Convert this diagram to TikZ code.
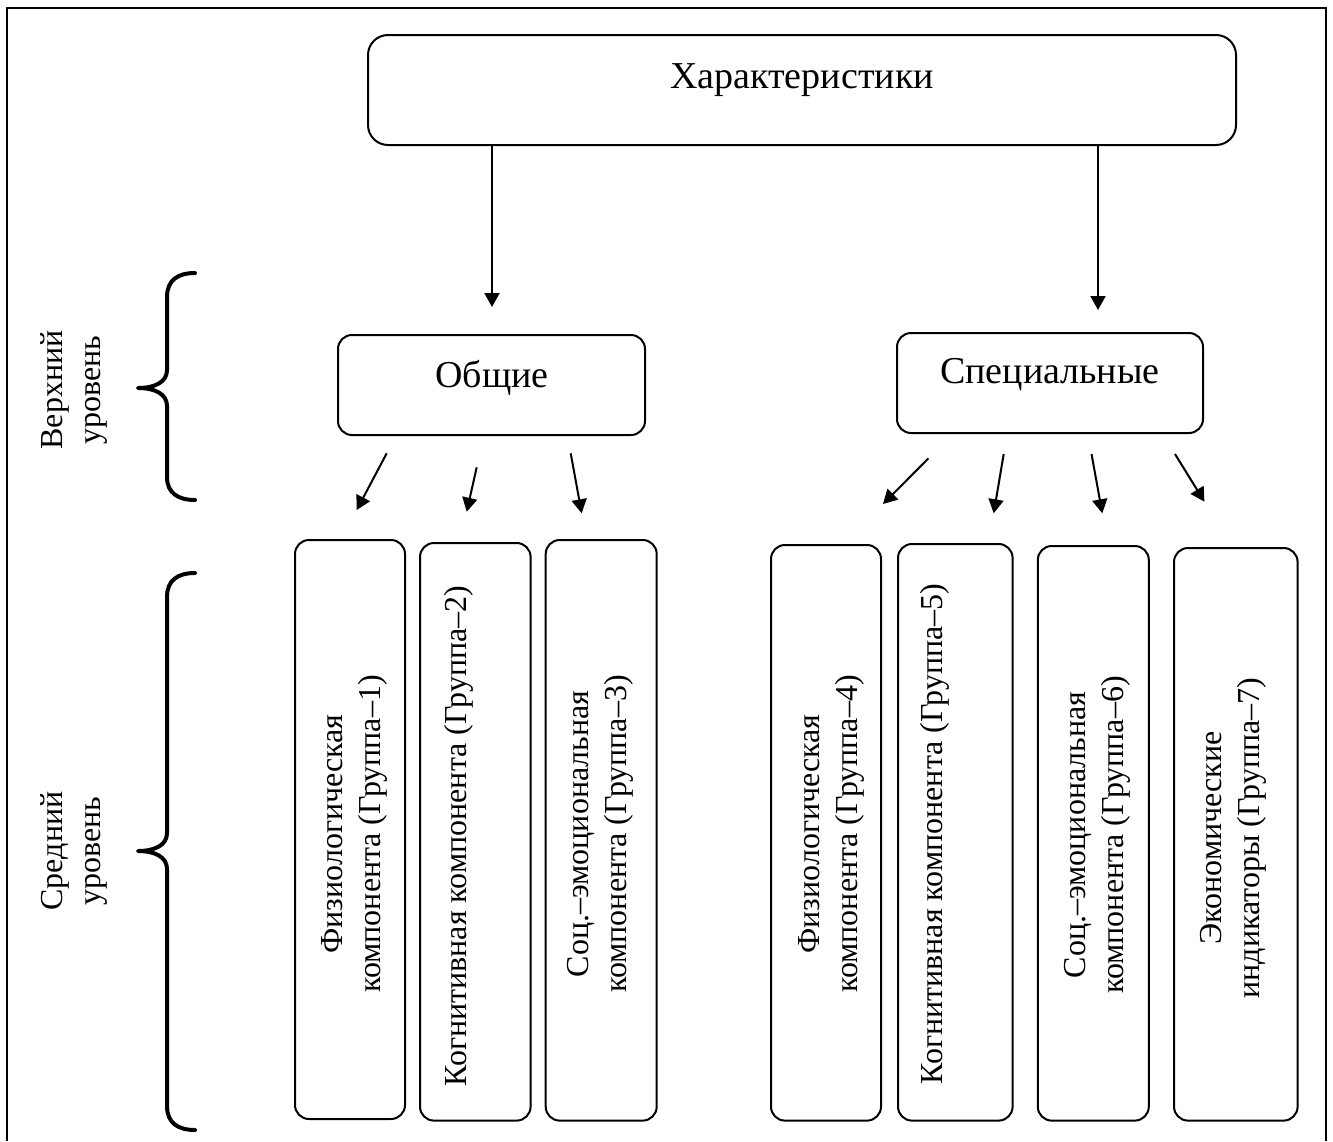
\documentclass[tikz,border=0pt]{standalone}
\usepackage{fontspec}
\setmainfont{Liberation Serif}
\usetikzlibrary{arrows.meta}
\begin{document}
\begin{tikzpicture}[x=0.5pt,y=-0.5pt,
  frame/.style={line width=1.4pt},
  box/.style={draw,line width=1pt,rounded corners=7pt,inner sep=0pt},
  bigbox/.style={box,rounded corners=10pt},
  arr/.style={line width=1pt,-{Triangle[length=7pt,width=7.5pt]}},
  brace/.style={line width=2pt,line cap=round,line join=round},
  htext/.style={font=\fontsize{19}{23}\selectfont,anchor=base,inner sep=0pt},
  vtext/.style={font=\fontsize{16}{19}\selectfont,rotate=90,align=center,inner sep=0pt},
]
\useasboundingbox (0,0) rectangle (1333,1141);
% outer frame
\draw[frame] (7,1141) -- (7,8) -- (1326,8) -- (1326,1141);

% top level
\node[bigbox,minimum width=434pt,minimum height=55pt] (top) at (802,90) {};
\node[htext] (ttop) at (802,88) {Характеристики};

\node[box,minimum width=153.5pt,minimum height=50pt] (obsh) at (491.5,385) {};
\node[htext] (tobsh) at (492,387) {Общие};
\node[box,minimum width=153pt,minimum height=50pt] (spec) at (1050,383) {};
\node[htext] (tspec) at (1050,383) {Специальные};

% long arrows
\coordinate (A1e) at (492,307);
\coordinate (A2e) at (1098,310);
\draw[arr] (top.south -| A1e) -- (A1e);
\draw[arr] (top.south -| A2e) -- (A2e);

% middle level boxes
\node[box,minimum width=55pt,minimum height=289.5pt] (L1) at (350,829.5) {};
\node[box,minimum width=55.3pt,minimum height=288.8pt] (L2) at (475.3,831.8) {};
\node[box,minimum width=55.5pt,minimum height=290.3pt] (L3) at (601.2,830.3) {};
\node[box,minimum width=55pt,minimum height=287.8pt] (R4) at (826,832.8) {};
\node[box,minimum width=57.3pt,minimum height=288.3pt] (R5) at (955.3,832.3) {};
\node[box,minimum width=55.5pt,minimum height=287.3pt] (R6) at (1093.3,833.3) {};
\node[box,minimum width=61.8pt,minimum height=286.3pt] (R7) at (1235.8,834.3) {};

\node[vtext] (tL1) at (354.5,834) {Физиологическая\\компонента (Группа–1)};
\node[vtext] (tL2) at (458.5,836) {Когнитивная компонента (Группа–2)};
\node[vtext] (tL3) at (600.5,834) {Соц.–эмоциональная\\компонента (Группа–3)};
\node[vtext] (tR4) at (831.5,834) {Физиологическая\\компонента (Группа–4)};
\node[vtext] (tR5) at (935,834) {Когнитивная компонента (Группа–5)};
\node[vtext] (tR6) at (1097.3,835) {Соц.–эмоциональная\\компонента (Группа–6)};
\node[vtext] (tR7) at (1233,838) {Экономические\\индикаторы (Группа–7)};

% small arrows
\coordinate (a1s) at (386.7,453.3); \coordinate (a1e) at (356.7,510);
\coordinate (a2s) at (476.7,467.3); \coordinate (a2e) at (466.7,511.7);
\coordinate (a3s) at (570.7,453.3); \coordinate (a3e) at (581.7,513.3);
\coordinate (b1s) at (928.5,458.3); \coordinate (b1e) at (883,504);
\coordinate (b2s) at (1003.7,454); \coordinate (b2e) at (993.7,513.3);
\coordinate (b3s) at (1091.5,454); \coordinate (b3e) at (1102.3,513.3);
\coordinate (b4s) at (1175,454);   \coordinate (b4e) at (1204.4,501.7);
\foreach \s/\e in {a1s/a1e,a2s/a2e,a3s/a3e,b1s/b1e,b2s/b2e,b3s/b3e,b4s/b4e}
  \draw[arr] (\s) -- (\e);

% level labels
\node[vtext] (lblU) at (74,390) {Верхний\\уровень};
\node[vtext] (lblM) at (74,851) {Средний\\уровень};

% braces
\draw[brace] (195,273) .. controls (178,273) and (167,280) .. (167,297) -- (167,370)
  .. controls (167,382) and (155,388) .. (138,388)
  .. controls (155,388) and (167,394) .. (167,406) -- (167,477)
  .. controls (167,493) and (178,500) .. (195,500);
\draw[brace] (195,573) .. controls (178,573) and (167,580) .. (167,597) -- (167,833)
  .. controls (167,845) and (155,851) .. (138,851)
  .. controls (155,851) and (167,857) .. (167,869) -- (167,1106)
  .. controls (167,1123) and (178,1130) .. (195,1130);
\end{tikzpicture}
\end{document}
